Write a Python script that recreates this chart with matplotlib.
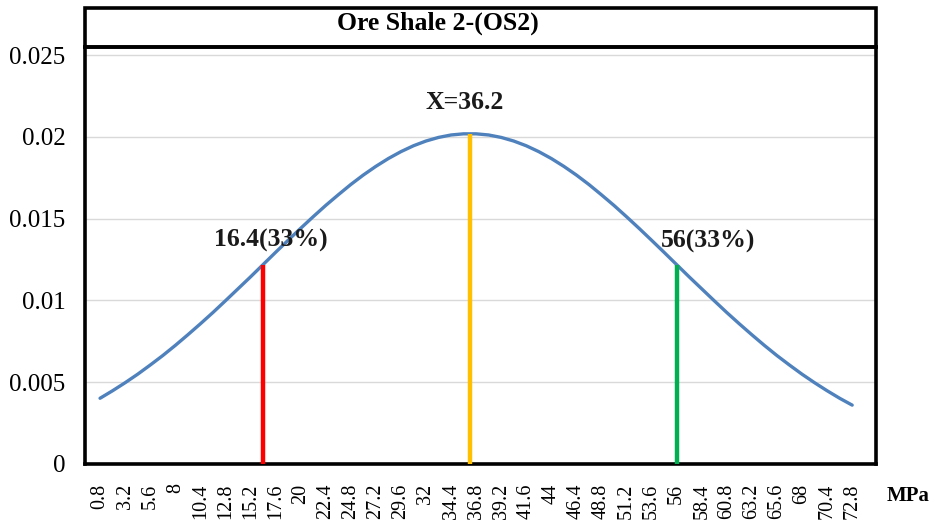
import numpy as np
import matplotlib
matplotlib.use("Agg")
import matplotlib.pyplot as plt
from matplotlib.patches import Rectangle

plt.rcParams['font.family'] = ['Liberation Serif', 'DejaVu Serif']

# Stress classes (MPa), one category every 1.2 MPa
stress = [round(0.8 + 1.2 * i, 1) for i in range(61)]

# Normal probability density of UCS for Ore Shale 2
density = [
    0.00402, 0.00448, 0.00497, 0.00549, 0.00605, 0.00663, 0.00725, 0.00790,
    0.00857, 0.00926, 0.00998, 0.01071, 0.01144, 0.01219, 0.01294, 0.01368,
    0.01441, 0.01512, 0.01581, 0.01646, 0.01709, 0.01767, 0.01820, 0.01868,
    0.01910, 0.01946, 0.01975, 0.01997, 0.02012, 0.02019, 0.02019, 0.02012,
    0.01997, 0.01975, 0.01946, 0.01910, 0.01868, 0.01820, 0.01767, 0.01709,
    0.01646, 0.01581, 0.01512, 0.01441, 0.01368, 0.01294, 0.01219, 0.01144,
    0.01071, 0.00998, 0.00926, 0.00857, 0.00790, 0.00725, 0.00663, 0.00605,
    0.00549, 0.00497, 0.00448, 0.00402, 0.00360,
]

# Marker lines: lower bound, mean, upper bound
marker_values = [16.4, 36.2, 56.0]
marker_labels = ["16.4(33%)", "X=36.2", "56(33%)"]
marker_colors = ["#FF0000", "#FFC000", "#00B050"]

title = "Ore Shale 2-(OS2)"
x_unit = "MPa"

W, H = 935, 522
fig = plt.figure(figsize=(W / 100, H / 100), dpi=100)
left, right, top, bottom, title_top = 85, 876, 47, 464, 8
ax = fig.add_axes([left / W, 1 - bottom / H, (right - left) / W, (bottom - top) / H])

idx = np.arange(len(stress))


def to_pos(v):
    # category position of a stress value on the 1.2 MPa class axis
    return (v - stress[0]) / (stress[1] - stress[0])


ax.plot(idx, density, color="#4F81BD", lw=2.4, solid_capstyle="round", zorder=3)

label_offsets = [(0.6, 0.00145), (-0.4, 0.0019), (2.5, 0.0014)]
for v, lab, col, (dx, dy) in zip(marker_values, marker_labels, marker_colors, label_offsets):
    p = to_pos(v)
    h = float(np.interp(p, idx, density))
    ax.plot([p, p], [0, h], color=col, lw=3.2, solid_capstyle="butt", zorder=4)
    ax.text(p + dx, h + dy, lab, ha="center", va="center", fontsize=18.5,
            fontweight="bold", color="#1a1a1a", zorder=5)

ax.set_xlim(-1.2, 61.9)
ax.set_ylim(0, 0.0255)
ax.set_yticks([0, 0.005, 0.01, 0.015, 0.02, 0.025])
ax.set_yticklabels(["0", "0.005", "0.01", "0.015", "0.02", "0.025"], fontsize=18)
ax.set_xticks(idx[::2])
ax.set_xticklabels([f"{v:g}" for v in stress[::2]], rotation=90, fontsize=14.5)
ax.tick_params(axis="both", length=0)
ax.tick_params(axis="y", pad=14)
ax.tick_params(axis="x", pad=14)
ax.grid(axis="y", color="#D9D9D9", lw=1.0)
ax.set_axisbelow(True)
for s in ax.spines.values():
    s.set_linewidth(2.6)
    s.set_color("black")

# Title box above the plot area
fig.patches.append(Rectangle((left / W, 1 - top / H), (right - left) / W, (top - title_top) / H,
                             transform=fig.transFigure, fill=False, ec="black", lw=2.6))
fig.text(438 / W, 1 - 23 / H, title, ha="center", va="center", fontsize=18.5, fontweight="bold")
fig.text(908 / W, 1 - 496 / H, x_unit, ha="center", va="center", fontsize=15, fontweight="bold")

fig.savefig("out.png", dpi=100)
